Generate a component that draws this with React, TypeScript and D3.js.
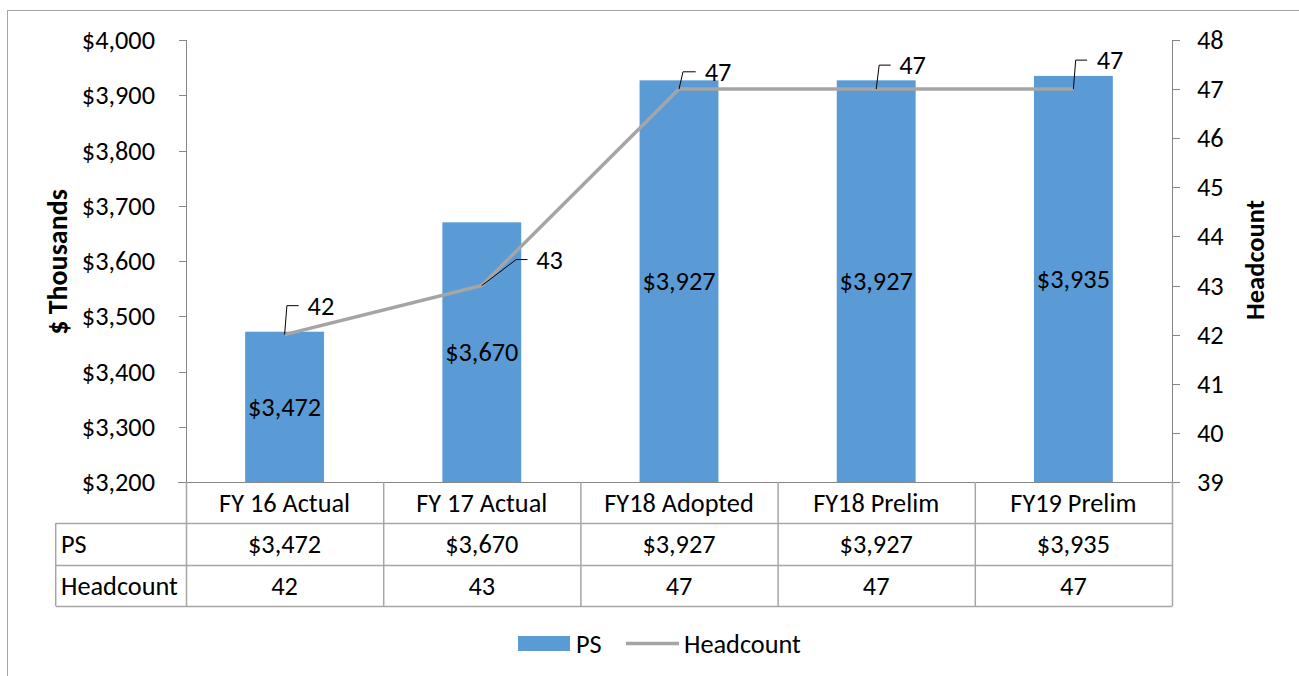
import React from "react";
import * as d3 from "d3";

const categories = ["FY 16 Actual", "FY 17 Actual", "FY18 Adopted", "FY18 Prelim", "FY19 Prelim"];
const psValues = [3472, 3670, 3927, 3927, 3935];
const headcountValues = [42, 43, 47, 47, 47];
const leftTickValues = [3200, 3300, 3400, 3500, 3600, 3700, 3800, 3900, 4000];
const rightTickValues = [39, 40, 41, 42, 43, 44, 45, 46, 47, 48];
const seriesNames = ["PS", "Headcount"];

// manual leader-label placement (elbow dx, dy; text dx)
const labelLayout = [
  { ex: 2.3, ey: -29, hx: 14, tx: 23 },
  { ex: 34.4, ey: -26, hx: 45.7, tx: 54.4 },
  { ex: 4, ey: -17.3, hx: 16.7, tx: 25.7 },
  { ex: 3, ey: -24, hx: 14.5, tx: 23 },
  { ex: 2.3, ey: -29, hx: 13.6, tx: 23.3 },
];

const FONT = "Calibri, Carlito, Lato, 'Open Sans', sans-serif";
const FS = 26.3;
const BAR = "#5B9BD5";
const LINE = "#A5A5A5";
const AXIS = "#868686";
const GRID = "#A6A6A6";

const fmtMoney = (v: number) => "$" + d3.format(",")(v);

export default function App() {
  const W = 1299, H = 676;
  const plotL = 186, plotR = 1172, plotT = 40, plotB = 482;
  const x = d3.scaleBand<string>().domain(categories).range([plotL, plotR]).padding(0);
  const yL = d3.scaleLinear().domain([3200, 4000]).range([plotB, plotT]);
  const yR = d3.scaleLinear().domain([39, 48]).range([plotB, plotT]);
  const step = x.bandwidth();
  const barW = step * 0.4;
  const cx = (c: string) => (x(c) as number) + step / 2;

  const line = d3
    .line<number>()
    .x((_, i) => cx(categories[i]))
    .y((d) => yR(d));

  const rowTop = plotB, row1 = 523, row2 = 565, row3 = 606, tableL = 55.7;

  return (
    <svg
      width={W}
      height={H}
      style={{ position: "absolute", left: 0, top: 0, background: "#fff", fontFamily: FONT }}
    >
      <rect x={0} y={0} width={W} height={H} fill="#fff" />
      <rect x={7.5} y={10.5} width={1400} height={800} fill="none" stroke={GRID} strokeWidth={1} />

      {/* bars */}
      {categories.map((c, i) => (
        <rect
          key={c}
          x={cx(c) - barW / 2}
          y={yL(psValues[i])}
          width={barW}
          height={plotB - yL(psValues[i])}
          fill={BAR}
        />
      ))}

      {/* axes */}
      <line x1={plotL + 0.5} x2={plotL + 0.5} y1={plotT} y2={plotB} stroke={AXIS} />
      <line x1={plotR + 0.5} x2={plotR + 0.5} y1={plotT} y2={plotB} stroke={AXIS} />
      {leftTickValues.map((t) => (
        <g key={"l" + t}>
          <line x1={179} x2={plotL} y1={Math.round(yL(t)) + 0.5} y2={Math.round(yL(t)) + 0.5} stroke={AXIS} />
          <text x={155} y={yL(t)} textAnchor="end" dominantBaseline="central" fontSize={FS} fill="#000">
            {fmtMoney(t)}
          </text>
        </g>
      ))}
      {rightTickValues.map((t) => (
        <g key={"r" + t}>
          <line x1={plotR} x2={1180} y1={Math.round(yR(t)) + 0.5} y2={Math.round(yR(t)) + 0.5} stroke={AXIS} />
          <text x={1197} y={yR(t)} textAnchor="start" dominantBaseline="central" fontSize={FS} fill="#000">
            {t}
          </text>
        </g>
      ))}
      <line x1={178} x2={1180} y1={plotB + 0.5} y2={plotB + 0.5} stroke={AXIS} />

      {/* axis titles */}
      <text
        transform={`translate(57,262) rotate(-90)`}
        textAnchor="middle"
        dominantBaseline="central"
        fontSize={28}
        fontWeight="bold"
      >
        $ Thousands
      </text>
      <text
        transform={`translate(1255,260) rotate(-90)`}
        textAnchor="middle"
        dominantBaseline="central"
        fontSize={26.5}
        fontWeight="bold"
      >
        Headcount
      </text>

      {/* bar labels */}
      {categories.map((c, i) => (
        <text
          key={"bl" + c}
          x={cx(c)}
          y={(yL(psValues[i]) + plotB) / 2}
          textAnchor="middle"
          dominantBaseline="central"
          fontSize={FS}
        >
          {fmtMoney(psValues[i])}
        </text>
      ))}

      {/* headcount line */}
      <path d={line(headcountValues) || ""} fill="none" stroke={LINE} strokeWidth={3.5} strokeLinejoin="round" />

      {/* headcount labels with leaders */}
      {categories.map((c, i) => {
        const px = cx(c), py = yR(headcountValues[i]);
        const L = labelLayout[i];
        return (
          <g key={"hl" + c}>
            <polyline
              points={`${px},${py} ${px + L.ex},${py + L.ey} ${px + L.hx},${py + L.ey}`}
              fill="none"
              stroke="#000"
              strokeWidth={1}
            />
            <text x={px + L.tx} y={py + L.ey} dominantBaseline="central" fontSize={FS}>
              {headcountValues[i]}
            </text>
          </g>
        );
      })}

      {/* data table */}
      {[row1, row2, row3].map((yy) => (
        <line key={"h" + yy} x1={tableL} x2={plotR + 0.5} y1={yy + 0.5} y2={yy + 0.5} stroke={GRID} strokeWidth={1.5} />
      ))}
      <line x1={tableL} x2={tableL} y1={row1} y2={row3} stroke={GRID} strokeWidth={1.5} />
      {categories.map((c) => (
        <line
          key={"v" + c}
          x1={(x(c) as number) + 0.5}
          x2={(x(c) as number) + 0.5}
          y1={rowTop}
          y2={row3}
          stroke={GRID}
          strokeWidth={1.5}
        />
      ))}
      <line x1={plotR + 0.5} x2={plotR + 0.5} y1={rowTop} y2={row3} stroke={GRID} strokeWidth={1.5} />
      {categories.map((c, i) => (
        <g key={"t" + c}>
          <text x={cx(c)} y={(rowTop + row1) / 2} textAnchor="middle" dominantBaseline="central" fontSize={FS}>
            {c}
          </text>
          <text x={cx(c)} y={(row1 + row2) / 2} textAnchor="middle" dominantBaseline="central" fontSize={FS}>
            {fmtMoney(psValues[i])}
          </text>
          <text x={cx(c)} y={(row2 + row3) / 2} textAnchor="middle" dominantBaseline="central" fontSize={FS}>
            {headcountValues[i]}
          </text>
        </g>
      ))}
      <text x={61} y={(row1 + row2) / 2} dominantBaseline="central" fontSize={FS}>
        {seriesNames[0]}
      </text>
      <text x={61} y={(row2 + row3) / 2} dominantBaseline="central" fontSize={FS}>
        {seriesNames[1]}
      </text>

      {/* legend */}
      <rect x={518} y={636} width={52} height={15} fill={BAR} />
      <text x={576} y={643.5} dominantBaseline="central" fontSize={FS}>
        {seriesNames[0]}
      </text>
      <line x1={626} x2={679} y1={643.5} y2={643.5} stroke={LINE} strokeWidth={3.5} />
      <text x={684} y={643.5} dominantBaseline="central" fontSize={FS}>
        {seriesNames[1]}
      </text>
    </svg>
  );
}
